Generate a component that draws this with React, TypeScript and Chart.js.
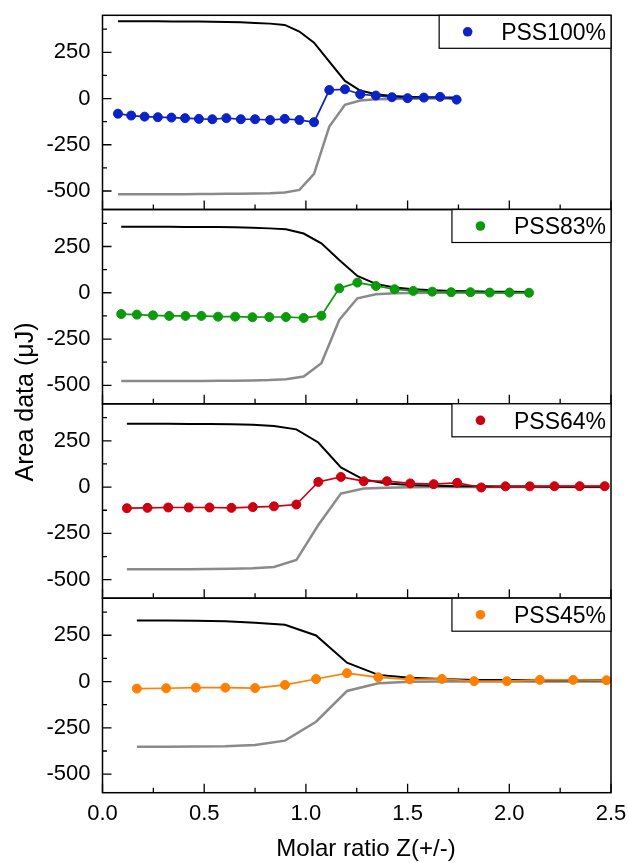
import React, { useEffect, useRef } from 'react';
import { Chart, registerables } from 'chart.js';

Chart.register(...registerables);

// ---------- data ----------
const seriesLabels = ['PSS100%', 'PSS83%', 'PSS64%', 'PSS45%'];

const xPSS100 = [0.076, 0.141, 0.207, 0.272, 0.339, 0.406, 0.474, 0.540, 0.609, 0.680, 0.750, 0.824, 0.896, 0.968, 1.040, 1.115, 1.192, 1.267, 1.344, 1.423, 1.500, 1.580, 1.660, 1.741];
const areaPSS100 = [-82, -92, -98, -101, -103, -106, -110, -112, -106, -112, -112, -116, -110, -116, -128, 46, 50, 23, 16, 7, 2, 5, 9, -6];
const upperPSS100 = [418, 418, 418, 418, 417, 417, 416, 415, 414, 412, 409, 405, 398, 362, 302, 199, 95, 43, 23, 14, 9, 7, 6, 5];
const lowerPSS100 = [-517, -517, -517, -517, -517, -517, -516, -516, -515, -515, -514, -512, -508, -494, -407, -152, -34, -11, -4, -2, -1, 0, 0, 0];

const xPSS83 = [0.092, 0.169, 0.248, 0.328, 0.408, 0.486, 0.568, 0.652, 0.737, 0.820, 0.902, 0.989, 1.076, 1.164, 1.253, 1.344, 1.436, 1.528, 1.621, 1.714, 1.809, 1.904, 2.001, 2.097];
const areaPSS83 = [-115, -118, -122, -125, -125, -125, -129, -129, -132, -131, -131, -136, -124, 24, 55, 37, 19, 10, 6, 3, 3, 1, 1, 0];
const upperPSS83 = [357, 357, 357, 357, 356, 356, 355, 354, 351, 348, 343, 320, 267, 177, 91, 48, 28, 19, 14, 10, 8, 6, 5, 4];
const lowerPSS83 = [-477, -477, -477, -477, -477, -477, -476, -476, -474, -472, -467, -453, -381, -147, -30, -8, -3, -1, 0, 0, 0, 0, 0, 0];

const xPSS64 = [0.120, 0.221, 0.323, 0.424, 0.526, 0.634, 0.739, 0.843, 0.953, 1.061, 1.172, 1.284, 1.398, 1.513, 1.628, 1.744, 1.862, 1.981, 2.101, 2.222, 2.346, 2.469];
const areaPSS64 = [-114, -112, -110, -110, -110, -112, -108, -104, -94, 28, 55, 32, 32, 20, 16, 23, -2, 4, 4, 5, 5, 5];
const upperPSS64 = [342, 342, 342, 341, 341, 340, 337, 330, 312, 241, 106, 41, 20, 11, 7, 5, 4, 3, 3, 2, 2, 2];
const lowerPSS64 = [-443, -443, -443, -443, -442, -441, -438, -431, -394, -205, -35, -8, -3, -1, 0, 0, 0, 0, 0, 0, 0, 0];

const xPSS45 = [0.169, 0.313, 0.459, 0.604, 0.750, 0.897, 1.050, 1.202, 1.356, 1.511, 1.669, 1.827, 1.988, 2.150, 2.314, 2.478];
const areaPSS45 = [-38, -36, -33, -33, -35, -18, 14, 45, 23, 12, 14, 2, 2, 9, 9, 7];
const upperPSS45 = [330, 329, 328, 326, 318, 307, 249, 102, 36, 21, 14, 9, 8, 7, 7, 7];
const lowerPSS45 = [-352, -352, -351, -349, -343, -319, -217, -51, -9, -1, 0, 0, 0, 0, 0, 0];

const yTickValues = [-500, -250, 0, 250];
const xTickValues = [0, 0.5, 1.0, 1.5, 2.0, 2.5];
const Y_MIN = -600;
const Y_MAX = 450;
const X_MIN = 0;
const X_MAX = 2.5;

const xTitle = 'Molar ratio Z(+/-)';
const yTitle = 'Area data (μJ)';

// ---------- styling / layout ----------
const W = 628;
const H = 863;
const PLOT_LEFT = 102.5;
const PLOT_RIGHT = 611;
const PANEL_EDGES = [15.3, 209.5, 403.8, 598.2, 792.7];
const FONT = "'Liberation Sans', Arial, sans-serif";
const seriesColors = ['#0a22c8', '#0b9a0b', '#cc0010', '#ff8000'];
const UPPER_COLOR = '#000000';
const LOWER_COLOR = '#8a8a8a';

const panels = [
  { x: xPSS100, area: areaPSS100, upper: upperPSS100, lower: lowerPSS100 },
  { x: xPSS83, area: areaPSS83, upper: upperPSS83, lower: lowerPSS83 },
  { x: xPSS64, area: areaPSS64, upper: upperPSS64, lower: lowerPSS64 },
  { x: xPSS45, area: areaPSS45, upper: upperPSS45, lower: lowerPSS45 },
];

function toPoints(xs: number[], ys: number[]) {
  return xs.map((x, i) => ({ x, y: ys[i] }));
}

function zeroPadding(s: any) {
  s.paddingTop = 0;
  s.paddingBottom = 0;
  s.paddingLeft = 0;
  s.paddingRight = 0;
}

function makeDecorPlugin(idx: number) {
  return {
    id: 'decor' + idx,
    afterDraw(chart: any) {
      const ctx = chart.ctx as CanvasRenderingContext2D;
      const { left, right, top, bottom } = chart.chartArea;
      const xs = chart.scales.x;
      const ys = chart.scales.y;
      ctx.save();
      ctx.strokeStyle = '#000';
      ctx.lineWidth = 1.5;
      ctx.strokeRect(left, top, right - left, bottom - top);

      ctx.lineWidth = 1.3;
      ctx.beginPath();
      for (let k = 0; k <= 10; k++) {
        const v = k * 0.25;
        const px = xs.getPixelForValue(v);
        const len = k % 2 === 0 ? 9 : 5;
        ctx.moveTo(px, bottom);
        ctx.lineTo(px, bottom - len);
      }
      for (let k = -4; k <= 3; k++) {
        const v = k * 125;
        const py = ys.getPixelForValue(v);
        const len = k % 2 === 0 ? 9 : 4.5;
        ctx.moveTo(left, py);
        ctx.lineTo(left + len, py);
      }
      ctx.stroke();

      // legend box
      const label = seriesLabels[idx];
      ctx.font = `23px ${FONT}`;
      const tw = ctx.measureText(label).width;
      const textRight = 606;
      const textLeft = textRight - tw;
      const mx = textLeft - 33.5;
      const boxLeft = mx - 28.5;
      const boxH = 33;
      ctx.fillStyle = '#fff';
      ctx.fillRect(boxLeft, top, right - boxLeft, boxH);
      ctx.lineWidth = 1.2;
      ctx.strokeStyle = '#000';
      ctx.strokeRect(boxLeft, top, right - boxLeft, boxH);
      ctx.fillStyle = seriesColors[idx];
      ctx.beginPath();
      ctx.arc(mx, top + 16.5, 4.8, 0, Math.PI * 2);
      ctx.fill();
      ctx.fillStyle = '#000';
      ctx.textAlign = 'left';
      ctx.textBaseline = 'alphabetic';
      ctx.fillText(label, textLeft, top + 24.8);

      if (idx === 3) {
        ctx.font = `24px ${FONT}`;
        ctx.textAlign = 'center';
        ctx.textBaseline = 'alphabetic';
        ctx.fillText(xTitle, 366, 856);
        ctx.save();
        ctx.translate(33, 402);
        ctx.rotate(-Math.PI / 2);
        ctx.font = `25px ${FONT}`;
        ctx.fillText(yTitle, 0, 0);
        ctx.restore();
      }
      ctx.restore();
    },
  };
}

function Panel({ idx }: { idx: number }) {
  const ref = useRef<HTMLCanvasElement>(null);
  useEffect(() => {
    const p = panels[idx];
    const isLast = idx === 3;
    const top = PANEL_EDGES[idx];
    const bottom = PANEL_EDGES[idx + 1];
    const xAxisH = isLast ? H - bottom : 0;
    const color = seriesColors[idx];
    const chart = new Chart(ref.current as HTMLCanvasElement, {
      type: 'line',
      data: {
        datasets: [
          {
            label: seriesLabels[idx],
            data: toPoints(p.x, p.area),
            borderColor: color,
            backgroundColor: color,
            borderWidth: 1.7,
            pointRadius: 4.5,
            pointBorderWidth: 1,
            pointBackgroundColor: color,
            pointBorderColor: color,
            tension: 0,
            clip: false,
          } as any,
          {
            label: 'upper',
            data: toPoints(p.x, p.upper),
            borderColor: UPPER_COLOR,
            borderWidth: 2,
            pointRadius: 0,
            tension: 0,
            clip: false,
          } as any,
          {
            label: 'lower',
            data: toPoints(p.x, p.lower),
            borderColor: LOWER_COLOR,
            borderWidth: 2.5,
            pointRadius: 0,
            tension: 0,
            clip: false,
          } as any,
        ],
      },
      options: {
        responsive: false,
        animation: false,
        devicePixelRatio: 1,
        events: [],
        layout: {
          autoPadding: false,
          padding: { left: 0, right: W - PLOT_RIGHT, top: top, bottom: H - bottom - xAxisH },
        },
        plugins: { legend: { display: false }, tooltip: { enabled: false }, title: { display: false } },
        scales: {
          x: {
            type: 'linear',
            min: X_MIN,
            max: X_MAX,
            display: isLast,
            grid: { display: false, drawTicks: false },
            border: { display: false },
            afterBuildTicks: (s: any) => {
              s.ticks = xTickValues.map((v) => ({ value: v }));
            },
            afterFit: (s: any) => {
              s.height = xAxisH;
              zeroPadding(s);
            },
            ticks: {
              font: { family: FONT, size: 22 },
              color: '#000',
              padding: 8,
              maxRotation: 0,
              autoSkip: false,
              callback: (v: any) => Number(v).toFixed(1),
            },
          },
          y: {
            type: 'linear',
            min: Y_MIN,
            max: Y_MAX,
            grid: { display: false, drawTicks: false },
            border: { display: false },
            afterBuildTicks: (s: any) => {
              s.ticks = yTickValues.map((v) => ({ value: v }));
            },
            afterFit: (s: any) => {
              s.width = PLOT_LEFT;
              zeroPadding(s);
            },
            ticks: {
              font: { family: FONT, size: 22 },
              color: '#000',
              padding: 12,
              autoSkip: false,
              callback: (v: any) => String(v),
            },
          },
        },
      } as any,
      plugins: [makeDecorPlugin(idx)],
    });
    return () => chart.destroy();
  }, [idx]);
  return (
    <canvas
      ref={ref}
      width={W}
      height={H}
      style={{ position: 'absolute', left: 0, top: 0, width: W, height: H }}
    />
  );
}

export default function App() {
  return (
    <div style={{ position: 'absolute', left: 0, top: 0, width: W, height: H, background: '#fff' }}>
      {[0, 1, 2, 3].map((i) => (
        <Panel key={i} idx={i} />
      ))}
    </div>
  );
}
